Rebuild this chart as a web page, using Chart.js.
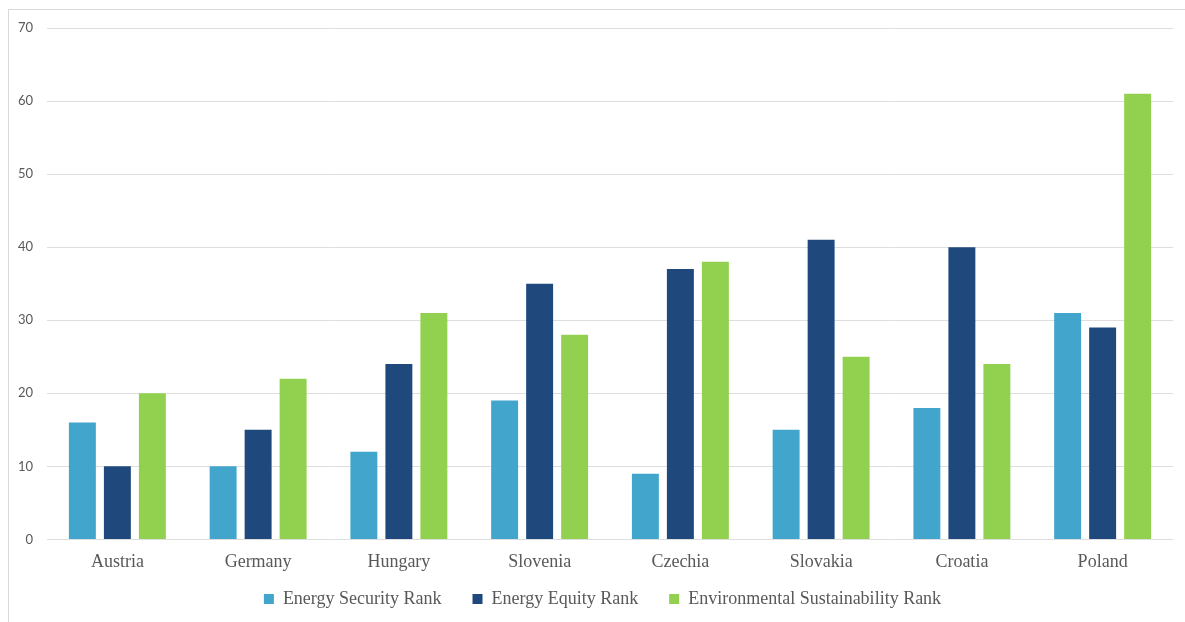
<!DOCTYPE html>
<html>
<head>
<meta charset="utf-8">
<script src="https://cdn.jsdelivr.net/npm/chart.js@4.4.1/dist/chart.umd.min.js"></script>
<style>
    body { margin: 0; background: #fff; }
    #frame {
        position: absolute; left: 8px; top: 9px;
        width: 1200px; height: 700px;
        border: 1px solid #d9d9d9;
    }
    #wrap { position: absolute; left: 0; top: 0; width: 1185px; height: 622px; }
</style>
</head>
<body>
<div id="frame"></div>
<div id="wrap"><canvas id="myChart"></canvas></div>
<script>
// data
const countries = ["Austria", "Germany", "Hungary", "Slovenia", "Czechia", "Slovakia", "Croatia", "Poland"];
const securityRank = [16, 10, 12, 19, 9, 15, 18, 31];
const equityRank = [10, 15, 24, 35, 37, 41, 40, 29];
const sustainabilityRank = [20, 22, 31, 28, 38, 25, 24, 61];
const yTicks = [0, 10, 20, 30, 40, 50, 60, 70];

const textGray = "#595959";
const serif = "'Liberation Serif', 'DejaVu Serif', serif";

const chart = document.getElementById("myChart");

const makeSet = (label, data, color) => ({
    label: label,
    data: data,
    backgroundColor: color,
    borderWidth: 0,
    categoryPercentage: 0.746,
    barPercentage: 0.77,
});

const datasets = [
    makeSet("Energy Security Rank", securityRank, "#42A6CC"),
    makeSet("Energy Equity Rank", equityRank, "#1F497D"),
    makeSet("Environmental Sustainability Rank", sustainabilityRank, "#92D050"),
];

// legend padding is wide for the gaps between items,
// so reserve less room for it in the layout, then put it back full size lower down
const legendSpot = {
    id: "legendSpot",
    beforeInit: (c) => {
        const fit = c.legend.fit;
        c.legend.fit = function () {
            fit.call(this);
            this.fullHeight = this.height;
            this.height = 37;
        };
    },
    afterLayout: (c) => {
        const lg = c.legend;
        const h = lg.fullHeight || 60;
        lg.top = 559;
        lg.bottom = 559 + h;
        lg.height = h;
        lg.left += 16; // legend sits a bit right of centre
        lg.right += 16;
    },
};

const config = {
    type: "bar",
    data: { labels: countries, datasets },
    plugins: [legendSpot],
    options: {
        responsive: false,
        animation: false,
        layout: { padding: { left: 0, right: 12, top: 28, bottom: 0 } },
        plugins: {
            tooltip: { enabled: false },
            legend: {
                position: "bottom",
                labels: {
                    boxWidth: 10,
                    boxHeight: 10,
                    padding: 31,
                    color: textGray,
                    font: { family: serif, size: 18 },
                },
            },
        },
        scales: {
            x: {
                grid: { display: false, drawTicks: false },
                border: { display: false },
                ticks: {
                    color: textGray,
                    padding: 12,
                    font: { family: serif, size: 18 },
                },
            },
            y: {
                min: 0,
                max: 70,
                afterBuildTicks: (scale) => {
                    scale.ticks = yTicks.map((v) => ({ value: v })); // fixed tick list
                },
                grid: { color: "#dedede", lineWidth: 1, drawTicks: false },
                border: { display: false },
                ticks: {
                    color: textGray,
                    padding: 14,
                    font: { family: "Lato, 'Open Sans', sans-serif", size: 13 },
                },
                afterFit: (scale) => { scale.width = 47; },
            },
        },
    },
};

chart.width = 1185;
chart.height = 622;
const myChart = new Chart(chart, config);
</script>
</body>
</html>
